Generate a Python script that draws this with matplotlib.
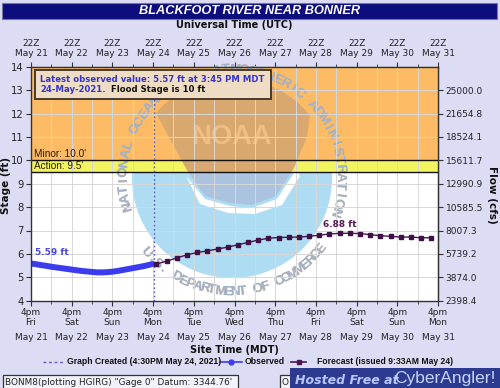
import matplotlib
matplotlib.use("Agg")
import matplotlib.pyplot as plt
import matplotlib.dates as mdates
import matplotlib.patches as mpatches
import matplotlib.transforms as mtransforms
from matplotlib import font_manager
import numpy as np
import pandas as pd

# ---------------- data ----------------
title = "BLACKFOOT RIVER NEAR BONNER"
obs_start = "2021-05-21 16:00"
obs_step_hours = 3
obs_last_time = "2021-05-24 15:45"
obs_stage = [5.59, 5.56, 5.52, 5.49, 5.45, 5.42, 5.39, 5.36, 5.33, 5.30, 5.27, 5.25,
             5.23, 5.21, 5.21, 5.22, 5.24, 5.27, 5.31, 5.35, 5.39, 5.43, 5.47, 5.52, 5.57]
fc_start = "2021-05-24 18:00"
fc_step_hours = 6
fc_stage = [5.57, 5.69, 5.83, 5.96, 6.06, 6.13, 6.21, 6.29, 6.39, 6.49, 6.59, 6.67, 6.70, 6.71,
            6.72, 6.75, 6.80, 6.85, 6.88, 6.88, 6.87, 6.82, 6.78, 6.75, 6.72, 6.72, 6.69, 6.69]
graph_created = "2021-05-24 16:30"
x_start = "2021-05-21 16:00"
x_end = "2021-05-31 16:00"
stage_ticks = [4, 5, 6, 7, 8, 9, 10, 11, 12, 13, 14]
flow_ticks = [4, 5, 6, 7, 8, 9, 10, 11, 12, 13]
flow_labels = ["2398.4", "3874.0", "5739.2", "8007.3", "10585.5", "12990.9",
               "15611.7", "18524.1", "21654.8", "25000.0"]
weekdays = ["Fri", "Sat", "Sun", "Mon", "Tue", "Wed", "Thu", "Fri", "Sat", "Sun", "Mon"]
day_labels = ["May 21", "May 22", "May 23", "May 24", "May 25", "May 26",
              "May 27", "May 28", "May 29", "May 30", "May 31"]
minor_stage = 10.0
action_stage = 9.5
top_stage = 14.0
latest_line1 = "Latest observed value: 5.57 ft at 3:45 PM MDT"
latest_line2a = "24-May-2021."
latest_line2b = "Flood Stage is 10 ft"
legend_created = "Graph Created (4:30PM May 24, 2021)"
legend_obs = "Observed"
legend_fc = "Forecast (issued 9:33AM May 24)"
footer = "BONM8(plotting HGIRG) \"Gage 0\" Datum: 3344.76'"

# ---------------- style ----------------
W, H, DPI = 500, 388, 100
BG = "#dcdcf4"
ORANGE = "#fdbb66"
YELLOW = "#f3f560"
OBS_C = "#3c3cef"
FC_C = "#4a1650"
GRID_C = "#d8d8d8"

avail = {f.name for f in font_manager.fontManager.ttflist}
NARROW = "Liberation Sans Narrow" if "Liberation Sans Narrow" in avail else "Liberation Sans"
NSCALE = 1.0 if NARROW == "Liberation Sans Narrow" else 0.82
plt.rcParams["font.family"] = ["DejaVu Sans"]

fig = plt.figure(figsize=(W / DPI, H / DPI), dpi=DPI, facecolor=BG)
px = mtransforms.Affine2D().scale(1 / DPI, -1 / DPI).translate(0, H / DPI) + fig.dpi_scale_trans

# plot box in pixels
L, R_, T, B = 31.0, 438.0, 66.7, 300.7
ax = fig.add_axes([L / W, (H - B) / H, (R_ - L) / W, (B - T) / H])
ax.set_facecolor("white")

t0 = mdates.date2num(pd.Timestamp(x_start))
t1 = mdates.date2num(pd.Timestamp(x_end))
ax.set_xlim(t0, t1)
ax.set_ylim(4, 14)

def ypix(stage):
    return T + (top_stage - stage) * (B - T) / 10.0

# bands
ax.axhspan(minor_stage, top_stage, color=ORANGE, zorder=0.3, lw=0)
ax.axhspan(action_stage, minor_stage, color=YELLOW, zorder=0.3, lw=0)

# ---------------- NOAA watermark ----------------
ysplit = ypix(action_stage)
warm_clip = mpatches.Rectangle((L, T), R_ - L, ysplit - T, transform=px)
cool_clip = mpatches.Rectangle((L, ysplit), R_ - L, B - ysplit, transform=px)
cx, cy, RR = 232.0, 178.0, 100.0

disc = mpatches.Circle((cx, cy), RR, transform=px, color="#aedcf2", lw=0, zorder=0.5)
ax.add_patch(disc)
disc.set_clip_path(cool_clip)

dark_pts = []
a_l = np.degrees(np.arctan2(-(113 - cy), 156 - cx))
a_r = np.degrees(np.arctan2(-(113 - cy), 313 - cx))
for a in np.linspace(a_l, a_r, 40):
    dark_pts.append((cx + RR * np.cos(np.radians(a)), cy - RR * np.sin(np.radians(a))))
dark_pts += [(307, 137), (294, 168), (276, 196), (252, 205), (230, 203), (205, 196),
             (188, 172), (172, 143)]
for col, clip in (("#d9a86f", warm_clip), ("#abc3de", cool_clip)):
    pg = mpatches.Polygon(dark_pts, closed=True, transform=px, color=col, lw=0, zorder=0.6)
    ax.add_patch(pg)
    pg.set_clip_path(clip)

gull = [(186, 176), (205, 199), (230, 206), (252, 208), (277, 199), (296, 170),
        (300, 176), (282, 205), (255, 214), (228, 213), (200, 204)]
gp = mpatches.Polygon(gull, closed=True, transform=px, color="white", lw=0, zorder=0.62)
ax.add_patch(gp)
gp.set_clip_path(cool_clip)

nt = ax.text(231, 137, "NOAA", transform=px, ha="center", va="center",
             fontsize=24 * NSCALE, fontweight="bold", family=NARROW, color="#f0bd84", zorder=0.7)
nt.set_clip_path(warm_clip)

def arc_text(s, r, a0, a1, inward):
    for ch, a in zip(s, np.linspace(a0, a1, len(s))):
        ar = np.radians(a)
        x = cx + r * np.cos(ar)
        y = cy - r * np.sin(ar)
        rot = a + 90 if inward else a - 90
        for col, clip in (("#d4a87c", warm_clip), ("#9fb3ce", cool_clip)):
            tt = ax.text(x, y, ch, transform=px, rotation=rot, rotation_mode="anchor",
                         ha="center", va="center", fontsize=9.6, fontweight="bold",
                         family="Liberation Sans", color=col, zorder=0.8)
            tt.set_clip_path(clip)

arc_text("NATIONAL OCEANIC AND ATMOSPHERIC ADMINISTRATION", 108, 195, -18, False)
arc_text("U.S. DEPARTMENT OF COMMERCE", 114, 221, 322, True)

# ---------------- grid & ticks ----------------
major = [mdates.date2num(pd.Timestamp(x_start) + pd.Timedelta(days=i)) for i in range(len(day_labels))]
minor = [m + 0.5 for m in major[:-1]]
ax.set_xticks(major)
ax.set_xticks(minor, minor=True)
ax.set_xticklabels([f"4pm\n{w}" for w in weekdays], fontsize=6.5, linespacing=1.15)
ax.set_yticks(stage_ticks)
ax.set_yticklabels([str(s) for s in stage_ticks], fontsize=7.2)
ax.set_axisbelow(False)
ax.grid(True, which="both", axis="x", color=GRID_C, lw=0.7, zorder=1)
ax.grid(True, which="major", axis="y", color=GRID_C, lw=0.7, zorder=1)
ax.tick_params(axis="x", which="major", length=3.5, pad=1.5, color="#333333", labelcolor="#222222")
ax.tick_params(axis="x", which="minor", length=2.5, color="#333333")
ax.tick_params(axis="y", length=3.5, pad=2, color="#333333", labelcolor="#222222")
for sp in ax.spines.values():
    sp.set_color("#333333")
    sp.set_linewidth(1.0)
    sp.set_zorder(10)

btr = mtransforms.blended_transform_factory(ax.transData, px)
for m, lab in zip(major, day_labels):
    ax.text(m, 337, lab, transform=btr, ha="center", va="center", fontsize=6.5,
            color="#222222", clip_on=False)

top = ax.secondary_xaxis("top")
top.set_xticks(major)
top.set_xticks(minor, minor=True)
top.set_xticklabels([f"22Z\n{d}" for d in day_labels], fontsize=6.5, linespacing=1.1)
top.tick_params(axis="x", which="major", length=3.5, pad=3, color="#333333", labelcolor="#222222")
top.tick_params(axis="x", which="minor", length=2.5, color="#333333")
top.spines["top"].set_color("#333333")

right = ax.secondary_yaxis("right")
right.set_yticks(flow_ticks)
right.set_yticklabels(flow_labels, fontsize=6.5)
right.tick_params(axis="y", length=3.5, pad=2, color="#333333", labelcolor="#222222")
right.spines["right"].set_color("#333333")

# flood lines
ax.axhline(minor_stage, color="#111111", lw=1.0, zorder=2.6)
ax.axhline(action_stage, color="#111111", lw=1.0, zorder=2.6)
ax.text(t0 + 0.08, minor_stage + 0.06, "Minor: 10.0'", fontsize=7.2, family="Liberation Sans",
        color="#2a1a08", va="bottom", ha="left", zorder=4)
ax.text(t0 + 0.08, action_stage + 0.06, "Action: 9.5'", fontsize=7.2, family="Liberation Sans",
        color="#2a1a08", va="bottom", ha="left", zorder=4)

# graph-created line
gc = mdates.date2num(pd.Timestamp(graph_created))
ax.axvline(gc, color="#5a5ac0", lw=1.0, ls=(0, (1.2, 1.8)), zorder=2.7)

# ---------------- data series ----------------
obs_t = list(pd.date_range(obs_start, periods=len(obs_stage) - 1, freq=f"{obs_step_hours}h"))
obs_t.append(pd.Timestamp(obs_last_time))
obs_x = mdates.date2num(obs_t)
fc_x = mdates.date2num(pd.date_range(fc_start, periods=len(fc_stage), freq=f"{fc_step_hours}h"))

ax.plot(obs_x, obs_stage, color=OBS_C, lw=4.3, solid_capstyle="round", zorder=5)
ax.plot(fc_x, fc_stage, color=FC_C, lw=1.0, marker="s", ms=3.3, mfc="#3f1046", mec="#3f1046",
        zorder=6)

ax.annotate(f"{obs_stage[0]:.2f} ft", (obs_x[0], obs_stage[0]), xytext=(3, 5),
            textcoords="offset points", fontsize=6.5, fontweight="bold", color="#4848e0",
            ha="left", va="bottom", zorder=7)
imax = int(np.argmax(fc_stage))
ax.annotate(f"{fc_stage[imax]:.2f} ft", (fc_x[imax], fc_stage[imax]), xytext=(0, 6),
            textcoords="offset points", fontsize=6.5, fontweight="bold", color="#5a1a5a",
            ha="center", va="center", zorder=7)

# ---------------- annotation box ----------------
fig.add_artist(mpatches.Rectangle((35, 69.5), 236, 29.5, transform=px, facecolor="#efdcc4",
                                  edgecolor="#4a3a2a", lw=1.4, zorder=5))
fig.text(40 / W, 1 - 79.5 / H, latest_line1, fontsize=6.1, fontweight="bold",
         family="DejaVu Sans", color="#3434cc", va="center", ha="left", zorder=6)
fig.text(40 / W, 1 - 89.5 / H, latest_line2a, fontsize=6.1, fontweight="bold",
         family="DejaVu Sans", color="#3434cc", va="center", ha="left", zorder=6)
fig.text(111 / W, 1 - 89.5 / H, latest_line2b, fontsize=6.1, fontweight="bold",
         family="DejaVu Sans", color="#111111", va="center", ha="left", zorder=6)

# ---------------- titles & labels ----------------
fig.add_artist(mpatches.Rectangle((2, 3), 495, 15.5, transform=px, facecolor="#0d0d7e",
                                  edgecolor="#7777a0", lw=0.8, zorder=5))
fig.text(250 / W, 1 - 10.8 / H, title, fontsize=9.2, fontweight="bold", style="italic",
         family="Liberation Sans", color="white", ha="center", va="center", zorder=6)
fig.text(234 / W, 1 - 25 / H, "Universal Time (UTC)", fontsize=7, fontweight="bold",
         color="#111111", ha="center", va="center")
fig.text(234 / W, 1 - 350 / H, "Site Time (MDT)", fontsize=7, fontweight="bold",
         color="#111111", ha="center", va="center")
fig.text(6 / W, 1 - 185 / H, "Stage (ft)", fontsize=7.5, fontweight="bold", rotation=90,
         color="#111111", ha="center", va="center")
fig.text(492 / W, 1 - 195 / H, "Flow (cfs)", fontsize=7.5, fontweight="bold", rotation=-90,
         color="#111111", ha="center", va="center")

# ---------------- legend row ----------------
ly = 362
LF = 7.6 * NSCALE
fig.add_artist(plt.Line2D([43, 65], [ly, ly], transform=px, color="#5a5ac0", lw=1,
                          ls=(0, (2, 2))))
fig.text(67 / W, 1 - ly / H, legend_created, fontsize=LF, fontweight="bold",
         family=NARROW, color="#111111", va="center", ha="left")
fig.add_artist(plt.Line2D([220, 231, 242], [ly, ly, ly], transform=px, color=OBS_C, lw=1.2,
                          marker="o", ms=3.5, markevery=[1]))
fig.text(245 / W, 1 - ly / H, legend_obs, fontsize=LF, fontweight="bold",
         family=NARROW, color="#111111", va="center", ha="left")
fig.add_artist(plt.Line2D([291, 298.5, 306], [ly, ly, ly], transform=px, color=FC_C, lw=1.2,
                          marker="s", ms=3, markevery=[1]))
fig.text(317 / W, 1 - ly / H, legend_fc, fontsize=LF, fontweight="bold",
         family=NARROW, color="#111111", va="center", ha="left")

# ---------------- footer ----------------
fig.add_artist(mpatches.Rectangle((2.5, 375), 235, 16, transform=px, facecolor="#f2f2fa",
                                  edgecolor="#333333", lw=0.9))
fig.text(5 / W, 1 - 382.5 / H, footer, fontsize=6.4, color="#222222", va="center", ha="left")
fig.add_artist(mpatches.Rectangle((280, 375), 15, 16, transform=px, facecolor="#f2f2fa",
                                  edgecolor="#333333", lw=0.9))
fig.text(281.5 / W, 1 - 382.5 / H, "O", fontsize=6.4, color="#222222", va="center", ha="left")
fig.add_artist(mpatches.Rectangle((290, 367.5), 212, 22, transform=px, facecolor="#2c3a90",
                                  edgecolor="none", zorder=4))
fig.text(295 / W, 1 - 380 / H, "Hosted Free at", fontsize=9, fontweight="bold", style="italic",
         family="DejaVu Sans", color="#b8c8ff", va="center", ha="left", zorder=5)
fig.text(394 / W, 1 - 379 / H, "CyberAngler!", fontsize=12.5, family=NARROW,
         color="#c8d4ff", va="center", ha="left", zorder=5)

fig.savefig("out.png", dpi=DPI, facecolor=BG)
